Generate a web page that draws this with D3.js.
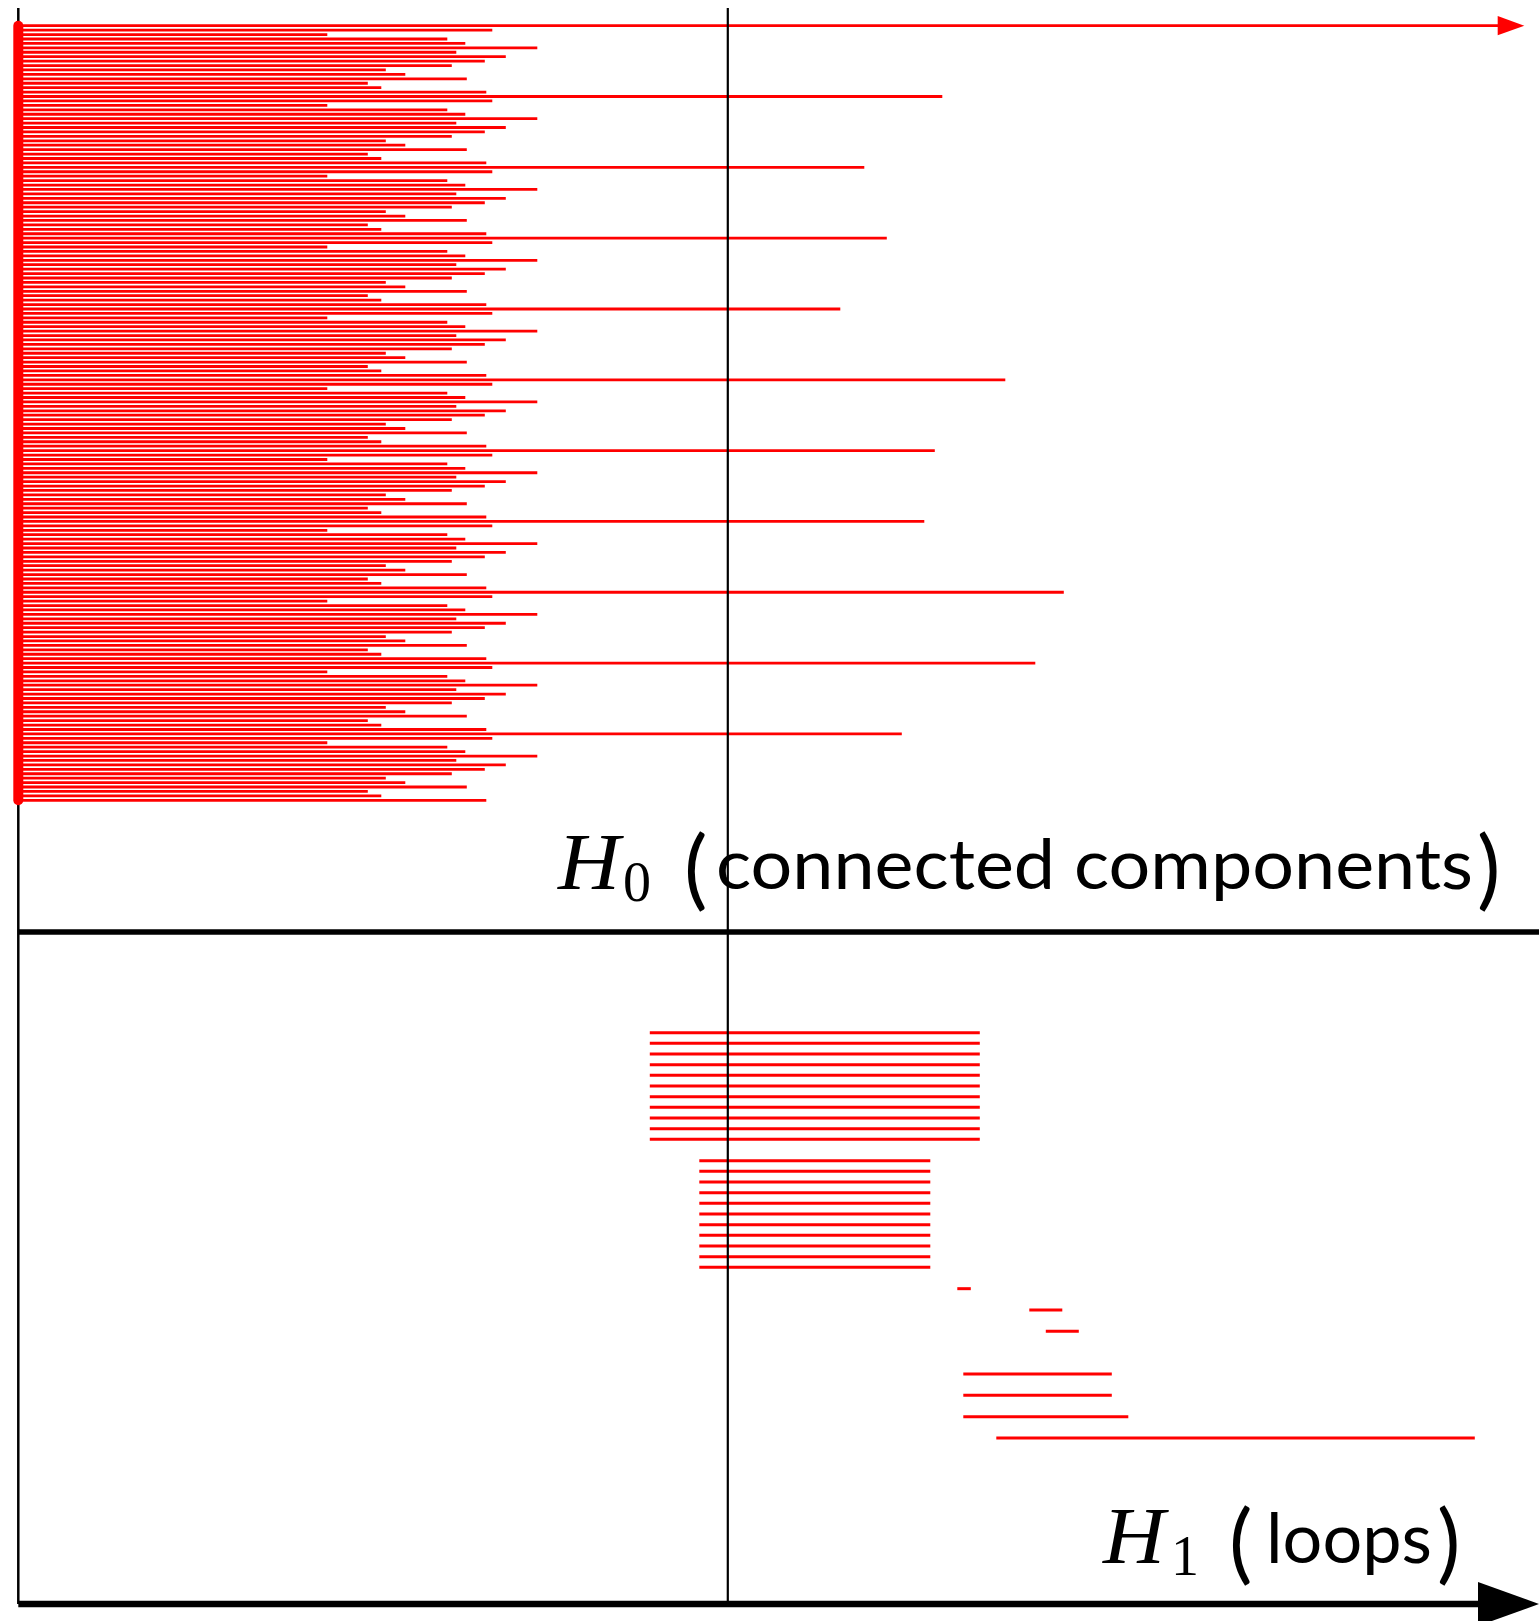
<!DOCTYPE html>
<html>
<head>
  <meta charset="UTF-8" />
  <title>Persistence barcode</title>
  <script src="https://d3js.org/d3.v7.min.js"></script>
  <style>
    body { margin: 0; background: #fff; }
    svg { display: block; }
    .bar { stroke: #ff0000; fill: none; }
    .axis { stroke: #000; fill: none; }
    .math { font-family: "Liberation Serif", "DejaVu Serif", serif; fill: #000; }
    .word { font-family: Lato, "Open Sans", "DejaVu Sans", sans-serif; fill: #000; }
  </style>
</head>
<body>
<svg width="1539" height="1621"></svg>
<script>
// H0 bars: every component is born at 0, this is when each one dies
// (first one never dies)
const h0Death = [
  Infinity, 0.316, 0.206, 0.286, 0.298, 0.346, 0.292, 0.325, 0.311, 0.289, 0.245, 0.258, 0.299, 0.233, 0.242, 0.312,
  0.616, 0.316, 0.206, 0.286, 0.298, 0.346, 0.292, 0.325, 0.311, 0.289, 0.245, 0.258, 0.299, 0.233, 0.242, 0.312,
  0.564, 0.316, 0.206, 0.286, 0.298, 0.346, 0.292, 0.325, 0.311, 0.289, 0.245, 0.258, 0.299, 0.233, 0.242, 0.312,
  0.579, 0.316, 0.206, 0.286, 0.298, 0.346, 0.292, 0.325, 0.311, 0.289, 0.245, 0.258, 0.299, 0.233, 0.242, 0.312,
  0.548, 0.316, 0.206, 0.286, 0.298, 0.346, 0.292, 0.325, 0.311, 0.289, 0.245, 0.258, 0.299, 0.233, 0.242, 0.312,
  0.658, 0.316, 0.206, 0.286, 0.298, 0.346, 0.292, 0.325, 0.311, 0.289, 0.245, 0.258, 0.299, 0.233, 0.242, 0.312,
  0.611, 0.316, 0.206, 0.286, 0.298, 0.346, 0.292, 0.325, 0.311, 0.289, 0.245, 0.258, 0.299, 0.233, 0.242, 0.312,
  0.604, 0.316, 0.206, 0.286, 0.298, 0.346, 0.292, 0.325, 0.311, 0.289, 0.245, 0.258, 0.299, 0.233, 0.242, 0.312,
  0.697, 0.316, 0.206, 0.286, 0.298, 0.346, 0.292, 0.325, 0.311, 0.289, 0.245, 0.258, 0.299, 0.233, 0.242, 0.312,
  0.678, 0.316, 0.206, 0.286, 0.298, 0.346, 0.292, 0.325, 0.311, 0.289, 0.245, 0.258, 0.299, 0.233, 0.242, 0.312,
  0.589, 0.316, 0.206, 0.286, 0.298, 0.346, 0.292, 0.325, 0.311, 0.289, 0.245, 0.258, 0.299, 0.233, 0.242, 0.312
];

// H1 bars (birth, death); equal values = zero-length bar, nothing drawn
const h1Birth = [
  0.421, 0.421, 0.421, 0.421, 0.421, 0.421, 0.421, 0.421, 0.421, 0.421, 0.421,
  0.454,
  0.454, 0.454, 0.454, 0.454, 0.454, 0.454, 0.454, 0.454, 0.454, 0.454, 0.454,
  0.608,
  0.626, 0.626, 0.674, 0.674, 0.685, 0.685, 0.685, 0.685,
  0.630, 0.630, 0.630, 0.630, 0.630, 0.630, 0.652
];
const h1Death = [
  0.641, 0.641, 0.641, 0.641, 0.641, 0.641, 0.641, 0.641, 0.641, 0.641, 0.641,
  0.454,
  0.608, 0.608, 0.608, 0.608, 0.608, 0.608, 0.608, 0.608, 0.608, 0.608, 0.608,
  0.608,
  0.635, 0.626, 0.696, 0.674, 0.707, 0.685, 0.685, 0.685,
  0.729, 0.630, 0.729, 0.630, 0.740, 0.630, 0.971
];

const cutValue = 0.473;   // the vertical line
const axisEnd = 1.004;    // where the infinite bar's arrow ends

const svg = d3.select("svg");

const x = d3.scaleLinear().domain([0, 1]).range([18.3, 1518.3]);
const y0 = d3.scaleLinear().domain([0, h0Death.length - 1]).range([25.7, 800.3]);
const y1 = d3.scaleLinear().domain([0, h1Birth.length - 1]).range([1032.7, 1438]);

const topY = 8, midY = 932, bottomY = 1604, rightX = 1539;

// left axis (under the red)
svg.append("line").attr("class", "axis")
  .attr("x1", x(0)).attr("x2", x(0)).attr("y1", topY).attr("y2", bottomY)
  .attr("stroke-width", 2.5);

// H0 bars
svg.append("g").selectAll("line")
  .data(h0Death)
  .join("line")
  .attr("class", "bar")
  .attr("stroke-width", 2.8)
  .attr("x1", x(0))
  .attr("x2", d => isFinite(d) ? x(d) : x(axisEnd) - 20)
  .attr("y1", (d, i) => y0(i))
  .attr("y2", (d, i) => y0(i));

// arrow head of the infinite bar
const tipX = x(axisEnd), tipY = y0(0);
svg.append("path")
  .attr("fill", "#ff0000")
  .attr("d", `M${tipX - 26.6},${tipY - 9.6}L${tipX},${tipY}L${tipX - 26.6},${tipY + 9.6}Z`);

// birth column (all born at 0)
svg.append("line")
  .attr("class", "bar")
  .attr("stroke-width", 10)
  .attr("stroke-linecap", "round")
  .attr("x1", x(0)).attr("x2", x(0))
  .attr("y1", y0(0)).attr("y2", y0(h0Death.length - 1));

// H1 bars
svg.append("g").selectAll("line")
  .data(h1Birth.map((b, i) => ({ b, d: h1Death[i], i })))
  .join("line")
  .attr("class", "bar")
  .attr("stroke-width", 3)
  .attr("x1", d => x(d.b))
  .attr("x2", d => x(d.d))
  .attr("y1", d => y1(d.i))
  .attr("y2", d => y1(d.i));

// vertical cut
svg.append("line").attr("class", "axis")
  .attr("x1", x(cutValue)).attr("x2", x(cutValue)).attr("y1", topY).attr("y2", bottomY)
  .attr("stroke-width", 2.2);

// separator between H0 and H1
svg.append("line").attr("class", "axis")
  .attr("x1", x(0)).attr("x2", rightX).attr("y1", midY).attr("y2", midY)
  .attr("stroke-width", 5.5);

// bottom axis with arrow
svg.append("line").attr("class", "axis")
  .attr("x1", x(0)).attr("x2", rightX - 30).attr("y1", bottomY).attr("y2", bottomY)
  .attr("stroke-width", 6.5);
svg.append("path")
  .attr("fill", "#000")
  .attr("d", `M${rightX - 61},${bottomY - 22}L${rightX},${bottomY}L${rightX - 61},${bottomY + 22}Z`);

// labels
function label(hx, base, sub, subX, parenL, wordX, wordW, parenR, word) {
  const g = svg.append("g");
  g.append("text").attr("class", "math")
    .attr("x", hx).attr("y", base)
    .attr("font-size", 80).attr("font-style", "italic")
    .attr("textLength", 62).attr("lengthAdjust", "spacingAndGlyphs")
    .text("H");
  g.append("text").attr("class", "math")
    .attr("x", subX).attr("y", base + 12)
    .attr("font-size", 56)
    .text(sub);
  g.append("text").attr("class", "word")
    .attr("x", parenL).attr("y", base + 10)
    .attr("font-size", 88)
    .text("(");
  g.append("text").attr("class", "word")
    .attr("x", wordX).attr("y", base)
    .attr("font-size", 69)
    .attr("textLength", wordW).attr("lengthAdjust", "spacingAndGlyphs")
    .text(word);
  g.append("text").attr("class", "word")
    .attr("x", parenR).attr("y", base + 10)
    .attr("font-size", 88)
    .text(")");
}

label(558, 889, "0", 623, 684, 716, 757, 1477, "connected components");
label(1103, 1563, "1", 1171, 1229, 1266, 166, 1437, "loops");
</script>
</body>
</html>
